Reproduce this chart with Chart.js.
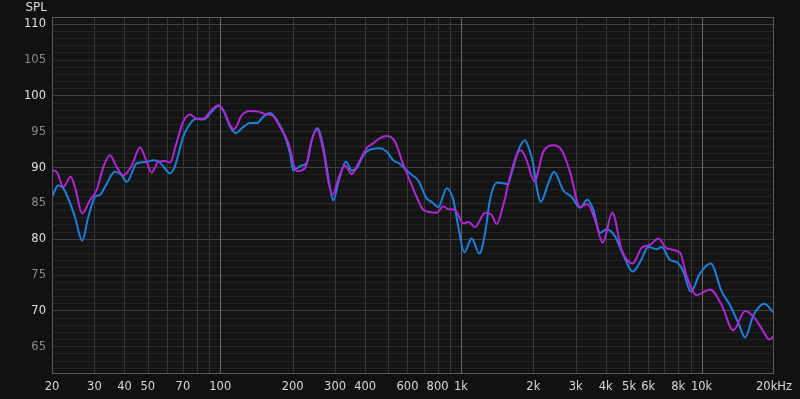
<!DOCTYPE html>
<html>
<head>
<meta charset="utf-8">
<script src="https://cdn.jsdelivr.net/npm/chart.js@4"></script>
<style>
  html, body { margin: 0; padding: 0; background: #111111; }
  #wrap { width: 800px; height: 399px; }
</style>
</head>
<body>
<div id="wrap"><canvas id="myChart" width="800" height="399"></canvas></div>
<script>
// frequency response, two measurements (Hz / dB SPL)
const blueFreq = [20, 21.2, 22.3, 23.8, 24.9, 26.7, 28.3, 30.2, 31.7, 33.2, 36.5, 39, 40.9, 45, 49.5, 52.7, 56.2, 61.9, 64.9,
  70.2, 76.1, 79.8, 85.1, 90.7, 98.2, 103, 110, 116, 123, 133, 142, 151, 161, 172, 186, 195, 201, 218, 229, 240, 253, 268,
  281, 295, 310, 333, 352, 369, 393, 419, 461, 492, 524, 558, 595, 630, 665, 721, 756, 806, 873, 930, 976, 1033, 1109,
  1193, 1260, 1321, 1416, 1559, 1651, 1732, 1846, 1937, 1990, 2060, 2146, 2308, 2438, 2665, 2887, 3127, 3353, 3552, 3785,
  4035, 4370, 4731, 5177, 5549, 6008, 6513, 6832, 7398, 7890, 8403, 9016, 9846, 10914, 12128, 13133, 14226, 15170,
  16430, 18230, 20000];
const blueSpl = [85.9, 87.5, 87.1, 85.0, 83.1, 79.8, 83.1, 85.9, 86.2, 87.3, 89.4, 88.9, 88.0, 90.6, 90.8, 91.0, 90.7, 89.2, 90.2,
  94.3, 96.4, 96.8, 96.7, 97.5, 98.6, 98.0, 95.7, 94.8, 95.5, 96.2, 96.2, 97.1, 97.6, 96.6, 94.3, 92.0, 89.6, 90.3, 90.6, 93.8, 95.5, 92.9,
  88.7, 85.4, 88.0, 90.8, 89.6, 89.9, 91.7, 92.5, 92.7, 92.2, 91.0, 90.5, 89.6, 88.9, 88.2, 85.7, 85.2, 84.5, 87.1, 85.5, 81.7, 78.2, 80.1,
  78.0, 80.8, 85.5, 87.9, 87.7, 90.1, 92.4, 93.8, 92.2, 90.8, 87.5, 85.2, 87.8, 89.4, 86.8, 85.9, 84.4, 85.5, 84.1, 80.9,
  81.4, 80.4, 77.8, 75.5, 76.8, 78.9, 78.6, 78.9, 77.1, 76.8, 75.5, 72.7, 75.2, 76.6, 72.7, 70.8, 68.3, 66.3,
  69.4, 71.0, 69.7];

const purpleFreq = [20, 20.9, 22.3, 23.9, 24.9, 26.7, 28.8, 30.7, 32.7, 34.8, 37.1, 39.6, 42.9, 46.4, 49.5, 51.9, 55.3, 59, 62, 65.5,
  70.2, 74.9, 79.8, 85.1, 90.7, 98.2, 103, 110, 114, 123, 133, 144, 156, 164, 177, 192, 208, 225, 240, 252, 268, 281, 293,
  310, 330, 352, 375, 406, 433, 461, 492, 533, 568, 605, 655, 698, 794, 845, 887, 945, 1023, 1074, 1145, 1260, 1343, 1408,
  1501, 1600, 1694, 1777, 1877, 2018, 2200, 2421, 2623, 2841, 3127, 3353, 3608, 3884, 4258, 4658, 5177, 5640, 6106, 6614,
  7170, 8142, 8681, 9546, 10842, 12128, 13554, 15170, 16430, 17950, 19120, 20000];
const purpleSpl = [89.6, 89.4, 87.3, 88.7, 87.3, 83.6, 85.5, 86.9, 90.1, 91.7, 90.1, 88.9, 90.3, 92.8, 90.8, 89.3, 90.8, 90.9, 90.7, 93.2,
  96.4, 97.4, 96.8, 96.8, 97.8, 98.7, 98.0, 95.9, 95.3, 97.3, 97.9, 97.8, 97.4, 97.3, 95.7, 93.4, 89.5, 89.9, 93.8, 95.3, 92.4, 88.2, 86.2,
  88.5, 90.3, 89.1, 90.6, 92.7, 93.4, 94.1, 94.4, 93.6, 91.0, 88.7, 85.9, 84.1, 83.7, 84.6, 84.2, 84.1, 82.2, 82.4, 81.7, 83.7, 83.4, 82.1,
  84.8, 88.7, 91.5, 92.4, 91.0, 88.1, 92.2, 93.1, 92.4, 89.4, 84.5, 84.9, 82.7, 79.5, 83.7, 78.5, 76.6, 78.8, 79.2, 80.1,
  78.7, 78.1, 74.8, 72.2, 73.0, 70.8, 67.3, 70.0, 69.2, 67.3, 66.0, 66.5];

const xTickValues = [20, 30, 40, 50, 60, 70, 80, 90, 100, 200, 300, 400, 500, 600, 700, 800, 900,
  1000, 2000, 3000, 4000, 5000, 6000, 7000, 8000, 9000, 10000, 20000];
const xTickLabels = { 20: '20', 30: '30', 40: '40', 50: '50', 70: '70', 100: '100', 200: '200', 300: '300',
  400: '400', 600: '600', 800: '800', 1000: '1k', 2000: '2k', 3000: '3k', 4000: '4k', 5000: '5k', 6000: '6k',
  8000: '8k', 10000: '10k', 20000: '20kHz' };
const yMin = 61.2, yMax = 111;

const toPoints = (fs, vs) => fs.map((f, i) => ({ x: f, y: vs[i] }));

// background, vertical grid on top of the dB lines, frame and the "SPL" caption
const framePlugin = {
  id: 'frame',
  beforeDraw(chart) {
    const { ctx, chartArea: a } = chart;
    ctx.save();
    ctx.fillStyle = '#111111';
    ctx.fillRect(0, 0, chart.width, chart.height);
    ctx.fillStyle = '#141414';
    ctx.fillRect(a.left, a.top, a.right - a.left, a.bottom - a.top);
    ctx.restore();
  },
  beforeDatasetsDraw(chart) {
    const { ctx, chartArea: a, scales } = chart;
    ctx.save();
    ctx.lineWidth = 1;
    xTickValues.forEach(v => {
      if (v === 20 || v === 20000) return;
      const x = Math.round(scales.x.getPixelForValue(v)) + 0.5;
      ctx.strokeStyle = (v === 100 || v === 1000 || v === 10000) ? '#6a6a6a' : '#383838';
      ctx.beginPath();
      ctx.moveTo(x, a.top);
      ctx.lineTo(x, a.bottom);
      ctx.stroke();
    });
    ctx.restore();
  },
  afterDraw(chart) {
    const { ctx, chartArea: a } = chart;
    ctx.save();
    ctx.strokeStyle = '#5a5a5a';
    ctx.lineWidth = 1;
    ctx.strokeRect(a.left + 0.5, a.top + 0.5, a.right - a.left - 1, a.bottom - a.top - 1);
    ctx.fillStyle = '#dddddd';
    ctx.font = '12px "DejaVu Sans"';
    ctx.textAlign = 'right';
    ctx.textBaseline = 'middle';
    ctx.fillText('SPL', 47, 8);
    ctx.restore();
  }
};

const ctx = document.getElementById('myChart').getContext('2d');
const myChart = new Chart(ctx, {
  type: 'line',
  data: {
    datasets: [
      {
        label: 'purple',
        data: toPoints(purpleFreq, purpleSpl),
        borderColor: '#b026d4',
        borderWidth: 2,
        pointRadius: 0,
        cubicInterpolationMode: 'monotone'
      },
      {
        label: 'blue',
        data: toPoints(blueFreq, blueSpl),
        borderColor: '#1b80dc',
        borderWidth: 2,
        pointRadius: 0,
        cubicInterpolationMode: 'monotone'
      }
    ]
  },
  options: {
    responsive: false,
    animation: false,
    layout: { padding: { left: 0, right: 26, top: 17, bottom: 0 } },
    plugins: { legend: { display: false }, tooltip: { enabled: false } },
    scales: {
      x: {
        type: 'logarithmic',
        min: 20,
        max: 20000,
        afterBuildTicks: (scale) => { scale.ticks = xTickValues.map(v => ({ value: v })); },
        afterFit: (scale) => { scale.height = 25; },
        grid: { display: false, drawTicks: false },
        border: { display: false },
        ticks: {
          autoSkip: false,
          maxRotation: 0,
          padding: 6,
          color: '#d8d8d8',
          font: { family: 'DejaVu Sans', size: 11.5 },
          callback: (v) => xTickLabels[v] || ''
        }
      },
      y: {
        min: yMin,
        max: yMax,
        afterBuildTicks: (scale) => {
          const t = [];
          for (let v = 62; v <= 111; v++) t.push({ value: v });
          scale.ticks = t;
        },
        afterFit: (scale) => { scale.width = 52; },
        grid: {
          drawTicks: false,
          color: (c) => {
            const v = c.tick && c.tick.value;
            if (v % 10 === 0) return '#404040';
            if (v % 5 === 0) return '#2e2e2e';
            return '#232323';
          }
        },
        border: { display: false },
        ticks: {
          autoSkip: false,
          padding: 6,
          font: { family: 'DejaVu Sans', size: 11.5 },
          color: (c) => (c.tick.value % 10 === 0 ? '#e0e0e0' : '#8a8a8a'),
          callback: (v) => (v % 5 === 0 && v >= 65 && v <= 110 ? String(v) : '')
        }
      }
    }
  },
  plugins: [framePlugin]
});
</script>
</body>
</html>
